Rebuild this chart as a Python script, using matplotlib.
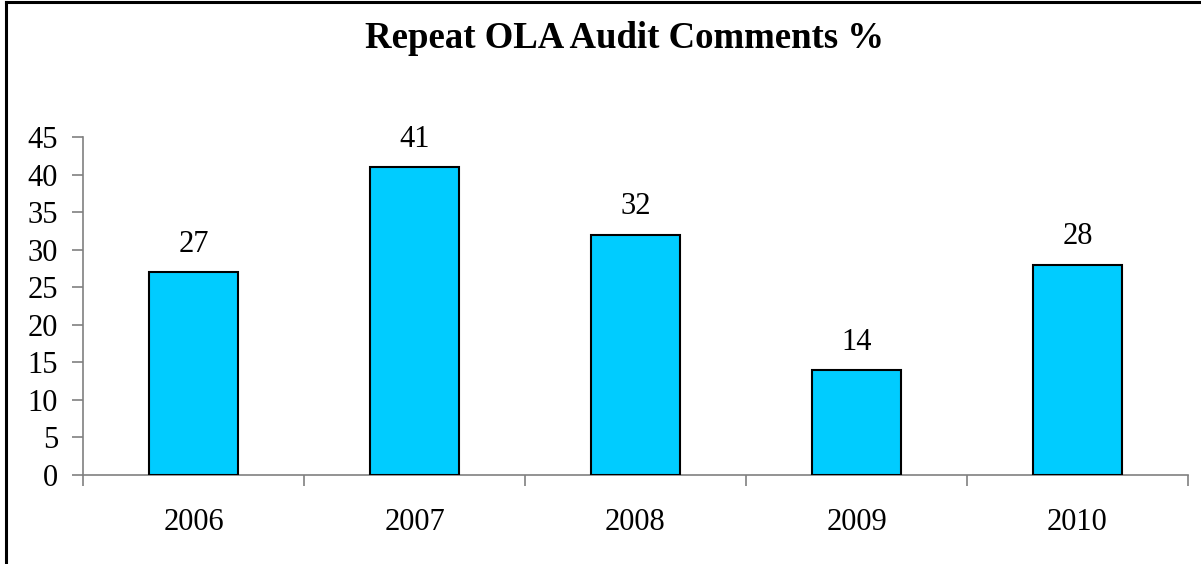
import numpy as np
import matplotlib.pyplot as plt
from matplotlib.lines import Line2D

# Data
years = ['2006', '2007', '2008', '2009', '2010']
repeat_pct = [27, 41, 32, 14, 28]
yticks = [0, 5, 10, 15, 20, 25, 30, 35, 40, 45]

plt.rcParams['font.family'] = ['Liberation Serif', 'DejaVu Serif']

W, H = 1201, 564
fig = plt.figure(figsize=(W / 100, H / 100), dpi=100)
ax = fig.add_axes([83 / W, 1 - 475 / H, (1188 - 83) / W, (475 - 137) / H])

x = np.arange(len(years))
ax.bar(x, repeat_pct, width=0.4, color='#00CCFF', edgecolor='black', linewidth=1.5, zorder=3)
for xi, v in zip(x, repeat_pct):
    ax.text(xi, v + 3.7, str(v), ha='center', va='center', fontsize=22)

ax.set_xlim(-0.5, len(years) - 0.5)
ax.set_ylim(0, 45)
ax.set_yticks(yticks)
ax.set_yticklabels([str(t) for t in yticks], fontsize=22)

# category boundary ticks on x, labels at centres
ax.set_xticks(np.arange(len(years) + 1) - 0.5)
ax.set_xticklabels([])
ax.set_xticks(x, minor=True)
ax.set_xticklabels(years, minor=True, fontsize=22)
ax.tick_params(axis='x', which='minor', length=0, pad=24)
ax.tick_params(axis='x', which='major', length=8, width=1.2, color='#808080', direction='out')
ax.tick_params(axis='y', length=8, width=1.2, color='#808080', direction='out', pad=10)

for s in ['top', 'right']:
    ax.spines[s].set_visible(False)
for s in ['left', 'bottom']:
    ax.spines[s].set_color('#808080')
    ax.spines[s].set_linewidth(1.2)

fig.text(625 / W, 1 - 38 / H, 'Repeat OLA Audit Comments %', ha='center', va='center',
         fontsize=26.5, fontweight='bold')

# frame lines of the original (top and left edges)
fig.add_artist(Line2D([6 / W, 6 / W], [0, 1 - 2 / H], transform=fig.transFigure, color='black', linewidth=2.2))
fig.add_artist(Line2D([6 / W, 1], [1 - 2 / H, 1 - 2 / H], transform=fig.transFigure, color='black', linewidth=2.2))

fig.savefig('out.png', dpi=100)
